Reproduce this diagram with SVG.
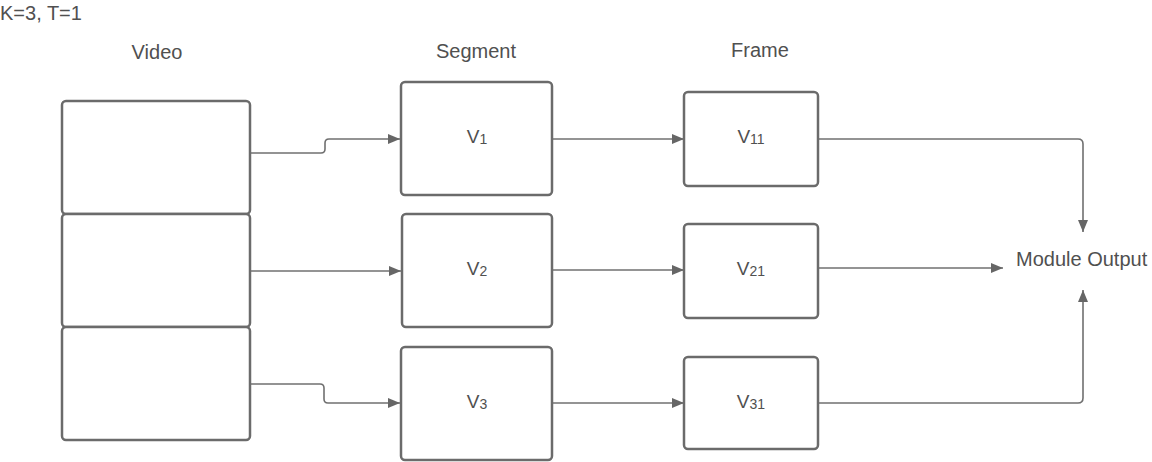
<svg xmlns="http://www.w3.org/2000/svg" width="1152" height="462" viewBox="0 0 1152 462">
  <style>
    .box { fill: #ffffff; stroke: #6b6b6b; stroke-width: 2.5; }
    .edge { fill: none; stroke: #707070; stroke-width: 1.6; }
    .lbl { font-family: "Liberation Sans", Arial, sans-serif; fill: #505050; }
    .head { font-size: 20px; text-anchor: middle; }
    .name { font-size: 19px; text-anchor: middle; }
    .sub { font-size: 14px; }
  </style>
  <defs>
    <marker id="arrow" viewBox="0 0 12 10" refX="12" refY="5" markerWidth="12" markerHeight="10" markerUnits="userSpaceOnUse" orient="auto">
      <path d="M0,0 L12,5 L0,10 Z" fill="#666666"/>
    </marker>
  </defs>

  <rect width="1152" height="462" fill="#ffffff"/>

  <!-- header texts -->
  <text class="lbl" x="0" y="20" font-size="20">K=3, T=1</text>
  <text class="lbl head" x="157" y="59">Video</text>
  <text class="lbl head" x="476" y="58">Segment</text>
  <text class="lbl head" x="760" y="57">Frame</text>

  <!-- connectors -->
  <g id="connectors">
    <path class="edge" d="M250,153 H321 Q325,153 325,149 V143 Q325,139 329,139 H400" marker-end="url(#arrow)"/>
    <path class="edge" d="M250,271 H401" marker-end="url(#arrow)"/>
    <path class="edge" d="M250,384 H320 Q324,384 324,388 V399 Q324,403 328,403 H400" marker-end="url(#arrow)"/>
    <path class="edge" d="M552,139 H684" marker-end="url(#arrow)"/>
    <path class="edge" d="M552,270 H684" marker-end="url(#arrow)"/>
    <path class="edge" d="M552,403 H684" marker-end="url(#arrow)"/>
    <path class="edge" d="M818,139 H1078 Q1083,139 1083,144 V232" marker-end="url(#arrow)"/>
    <path class="edge" d="M818,268 H1003" marker-end="url(#arrow)"/>
    <path class="edge" d="M818,403 H1078 Q1083,403 1083,398 V290" marker-end="url(#arrow)"/>
  </g>

  <!-- video stack -->
  <g id="video-1"><rect class="box" x="62" y="101" width="188" height="113" rx="4"/></g>
  <g id="video-2"><rect class="box" x="62" y="214" width="188" height="113" rx="4"/></g>
  <g id="video-3"><rect class="box" x="62" y="327" width="188" height="113" rx="4"/></g>

  <!-- segments -->
  <g id="segment-1">
    <rect class="box" x="401" y="82" width="151" height="113" rx="4"/>
    <text class="lbl name" x="477" y="143">V<tspan class="sub" dy="1">1</tspan></text>
  </g>
  <g id="segment-2">
    <rect class="box" x="402" y="214" width="150" height="113" rx="4"/>
    <text class="lbl name" x="477" y="275">V<tspan class="sub" dy="1">2</tspan></text>
  </g>
  <g id="segment-3">
    <rect class="box" x="401" y="347" width="151" height="113" rx="4"/>
    <text class="lbl name" x="477" y="408">V<tspan class="sub" dy="1">3</tspan></text>
  </g>

  <!-- frames -->
  <g id="frame-11">
    <rect class="box" x="684" y="92" width="134" height="94" rx="4"/>
    <text class="lbl name" x="751" y="143">V<tspan class="sub" dy="1">11</tspan></text>
  </g>
  <g id="frame-21">
    <rect class="box" x="684" y="224" width="134" height="94" rx="4"/>
    <text class="lbl name" x="751" y="275">V<tspan class="sub" dy="1">21</tspan></text>
  </g>
  <g id="frame-31">
    <rect class="box" x="684" y="357" width="134" height="92" rx="4"/>
    <text class="lbl name" x="751" y="408">V<tspan class="sub" dy="1">31</tspan></text>
  </g>

  <!-- output -->
  <g id="module-output">
    <text class="lbl" x="1016" y="266" font-size="20">Module Output</text>
  </g>
</svg>
